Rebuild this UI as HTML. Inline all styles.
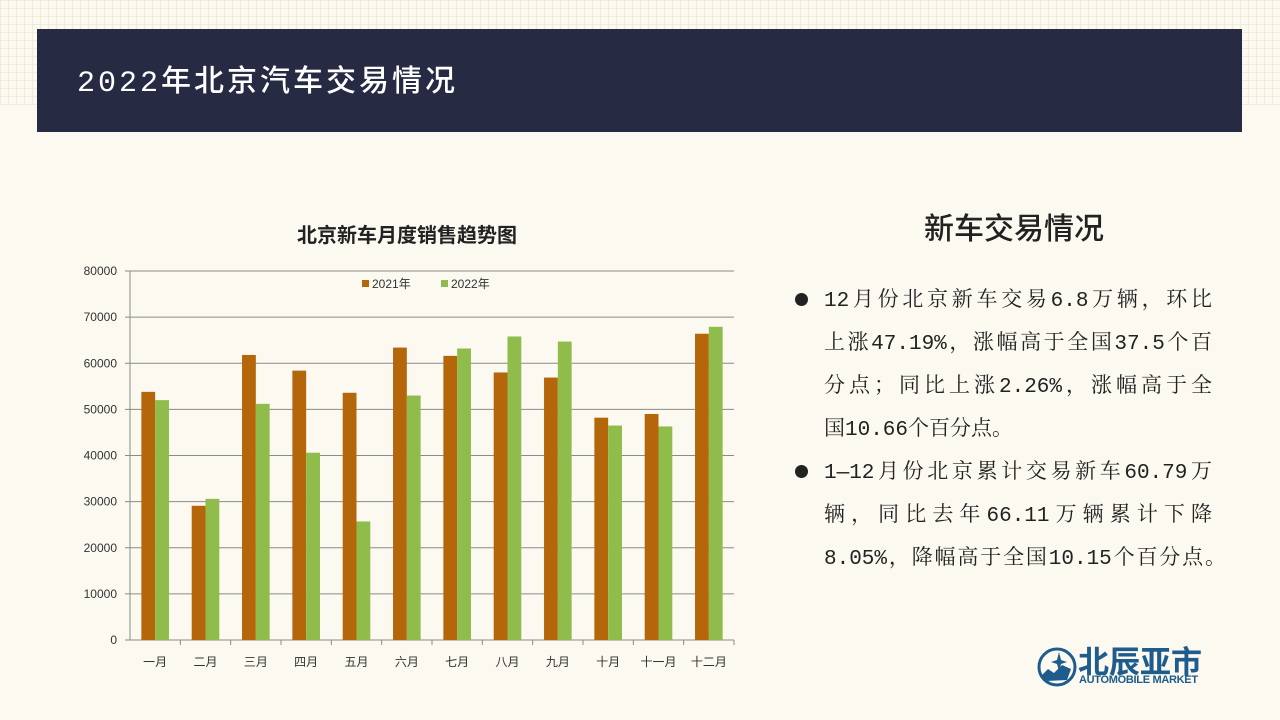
<!DOCTYPE html>
<html><head><meta charset="utf-8"><style>
html,body{margin:0;padding:0;}
body{width:1280px;height:720px;position:relative;overflow:hidden;background:#fcf9f0;font-family:"Liberation Sans","Noto Sans CJK SC",sans-serif;}
.grid{position:absolute;left:0;top:0;width:1280px;height:105px;background-image:linear-gradient(#ece6d6 1px,transparent 1px),linear-gradient(90deg,#ece6d6 1px,transparent 1px);background-size:8px 8px;opacity:.7}
.header{position:absolute;left:37px;top:29px;width:1205px;height:103px;background:#272a43;}
.header h1{margin:0;position:absolute;left:40px;top:27px;color:#fff;font-family:"Liberation Mono","Noto Sans CJK SC",sans-serif;font-size:30px;font-weight:500;letter-spacing:3px;white-space:nowrap}
.rt{position:absolute;left:924px;top:204px;font-size:30px;font-family:"Noto Sans CJK SC",sans-serif;font-weight:500;color:#222}
.para{position:absolute;left:824px;font-family:"Liberation Mono","Noto Serif CJK SC",serif;font-size:21px;color:#222}
.para div{height:43px;line-height:43px;text-align:justify;text-align-last:justify;white-space:nowrap}
.dot{position:absolute;left:795px;width:13px;height:13px;border-radius:50%;background:#222}
</style></head><body>
<div class="grid"></div>
<div class="header"><h1>2022年北京汽车交易情况</h1></div>
<svg id="chart" style="position:absolute;left:0;top:0" width="800" height="720"></svg>
<div class="rt">新车交易情况</div>
<div class="dot" style="top:293px"></div>
<div class="para" style="top:280px;width:388px">
<div>12月份北京新车交易6.8万辆，环比</div><div>上涨47.19%，涨幅高于全国37.5个百</div><div>分点；同比上涨2.26%，涨幅高于全</div><div style="text-align-last:left">国10.66个百分点。</div></div>
<div class="dot" style="top:465px"></div>
<div class="para" style="top:452px;width:402px">
<div style="width:388px">1—12月份北京累计交易新车60.79万</div><div style="width:388px">辆，同比去年66.11万辆累计下降</div><div>8.05%，降幅高于全国10.15个百分点。</div></div>
<div style="position:absolute;left:1036px;top:646px;width:175px;height:44px">
<svg width="42" height="42" style="position:absolute;left:0;top:0"><circle cx="21" cy="21" r="18" fill="none" stroke="#1d5c8c" stroke-width="3"/><path d="M6 29 L12 23 L18 27 L26 19 L35 23 L31 34 L10 35Z" fill="#1d5c8c"/><path d="M23 6 L25 14 L31 16 L25 18 L23 25 L21 18 L15 16 L21 14Z" fill="#1d5c8c"/></svg>
<div style="position:absolute;left:42px;top:-9px;font-size:31px;font-weight:bold;color:#1d5c8c;letter-spacing:0px">北辰亚市</div>
<div style="position:absolute;left:43px;top:28px;font-size:11px;font-weight:bold;color:#1d5c8c;letter-spacing:-0.3px">AUTOMOBILE MARKET</div>
</div>
<script>
const categories=["一月","二月","三月","四月","五月","六月","七月","八月","九月","十月","十一月","十二月"];
const series2021=[53800,29100,61800,58400,53600,63400,61600,58000,56900,48200,49000,66400];
const series2022=[52000,30600,51200,40600,25700,53000,63200,65800,64700,46500,46300,67900];
const yTicks=[0,10000,20000,30000,40000,50000,60000,70000,80000];
const svg=document.getElementById('chart');const NS='http://www.w3.org/2000/svg';
const X0=130,X1=734,Y0=640,Y1=271,YMAX=80000;
const y=v=>Y0-(v/YMAX)*(Y0-Y1);
const band=(X1-X0)/categories.length;
const xc=i=>X0+band*(i+0.5);
function mk(t,a,txt){const e=document.createElementNS(NS,t);for(const k in a)e.setAttribute(k,a[k]);if(txt!==undefined)e.textContent=txt;svg.appendChild(e);return e;}
let e=mk('text',{x:407,y:242,'text-anchor':'middle','font-size':20,'font-weight':'bold',fill:'#222'},'北京新车月度销售趋势图');


yTicks.forEach(t=>{
 e=mk('line',{x1:X0-5,x2:X1,y1:y(t),y2:y(t),stroke:'#8a8a8a','stroke-width':1});
 
 
 e=mk('text',{x:117,y:y(t)+4,'text-anchor':'end','font-size':12,fill:'#333'},String(t));
 
 
});
e=mk('line',{x1:X0,x2:X0,y1:Y1,y2:Y0,stroke:'#8a8a8a'});


const bw=13.8;
categories.forEach((c,i)=>{
 e=mk('rect',{x:xc(i)-bw,y:y(series2021[i]),width:bw,height:Y0-y(series2021[i]),fill:'#b5650a'});
 
 
 e=mk('rect',{x:xc(i),y:y(series2022[i]),width:bw,height:Y0-y(series2022[i]),fill:'#8fbc4a'});
 
 
 e=mk('line',{x1:X0+band*(i+1),x2:X0+band*(i+1),y1:Y0,y2:Y0+5,stroke:'#8a8a8a'});
 
 
 e=mk('text',{x:xc(i),y:666,'text-anchor':'middle','font-size':12,fill:'#333'},c);
 
 
});
e=mk('rect',{x:362,y:280,width:7,height:7,fill:'#b5650a'});


e=mk('text',{x:372,y:288,'font-size':12,fill:'#333'},'2021年');


e=mk('rect',{x:441,y:280,width:7,height:7,fill:'#8fbc4a'});


e=mk('text',{x:451,y:288,'font-size':12,fill:'#333'},'2022年');


</script>
</body></html>
